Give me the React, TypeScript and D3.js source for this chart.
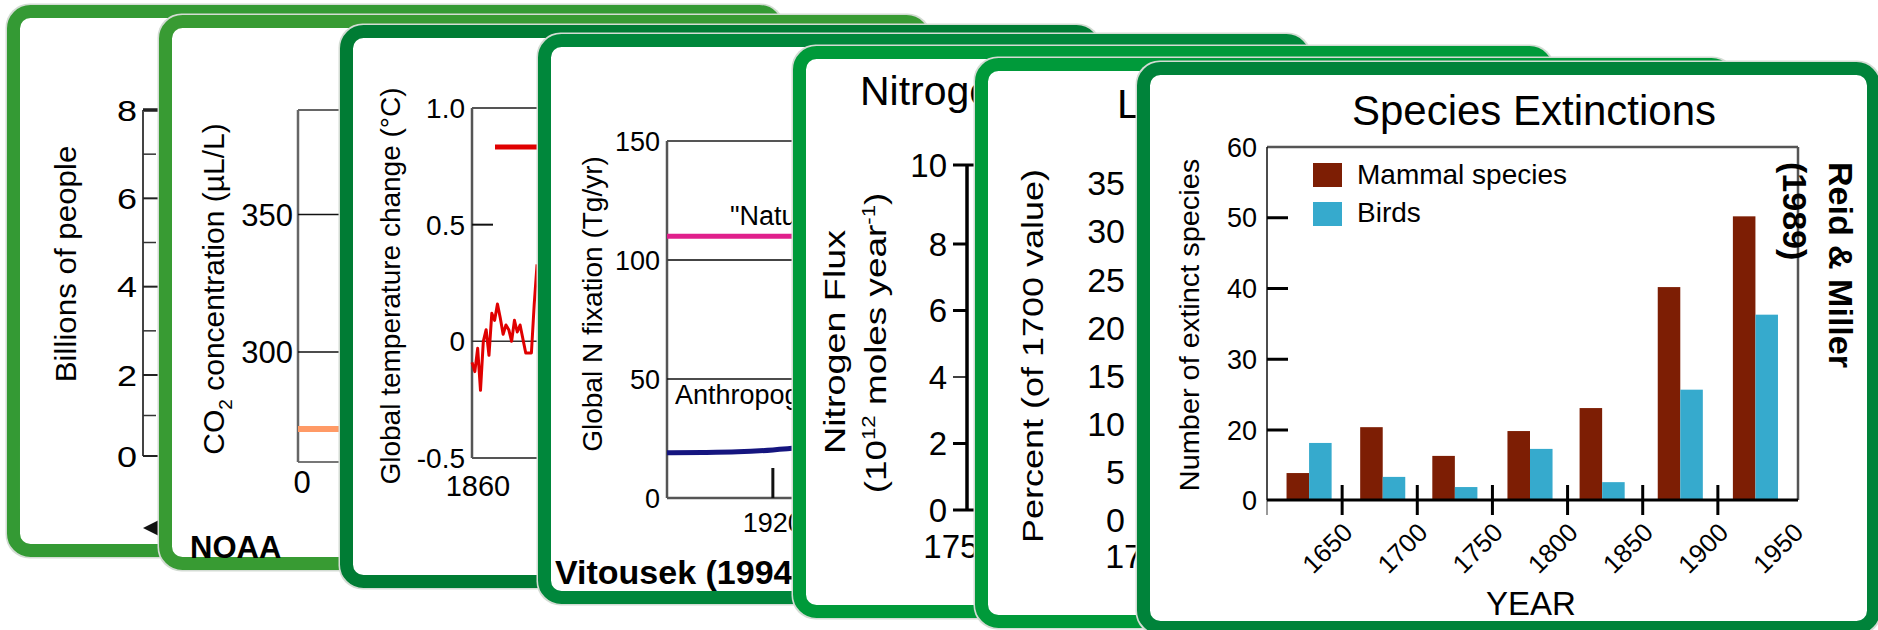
import React from "react";
import * as d3 from "d3";

const FONT = "'Liberation Sans', Arial, Helvetica, sans-serif";

// card 1 - world population
const popTicks = [0, 2, 4, 6, 8];
const popMinorTicks = [1, 3, 5, 7];

// card 2 - CO2 (NOAA)
const co2Ticks = [300, 350];
const co2Years = [0, 500, 1000];
const co2Ppm = [272, 272, 272];

// card 3 - global temperature
const tempTicks = [-0.5, 0, 0.5, 1.0];
const tempYears = [1860, 1861, 1862, 1863, 1864, 1865, 1866, 1867, 1868, 1869, 1870, 1871,
  1872, 1873, 1874, 1875, 1876, 1877, 1878, 1879, 1880, 1881, 1882, 1883];
const tempAnoms = [-0.09, -0.13, -0.03, -0.21, 0.0, 0.05, -0.06, 0.12, 0.09, 0.16, 0.1, 0.03,
  0.07, 0.05, 0.0, 0.09, 0.04, 0.07, 0.01, -0.05, -0.05, -0.05, 0.16, 0.33];

// card 4 - global N fixation (Vitousek 1994)
const nfixTicks = [0, 50, 100, 150];
const naturalYears = [1860, 2000];
const naturalVals = [110, 110];
const anthroYears = [1860, 1880, 1900, 1920, 1940];
const anthroVals = [19.0, 19.1, 19.4, 20.2, 21.5];

// card 5 - nitrogen flux
const fluxTicks = [0, 2, 4, 6, 8, 10];

// card 6 - percent of 1700 value
const pctTicks = [0, 5, 10, 15, 20, 25, 30, 35];

// card 7 - species extinctions (Reid & Miller 1989)
const periodMids = [1628, 1677, 1725, 1775, 1823, 1875, 1925];
const mammals = [7.7, 20.4, 12.6, 19.7, 23.1, 40.2, 50.2];
const birds = [16.3, 6.6, 3.7, 14.6, 5.1, 25.7, 36.3];
const extTickLabels = [0, 20, 30, 40, 50, 60];
const extTickMarks = [20, 30, 40, 50];
const yearTicks = [1650, 1700, 1750, 1800, 1850, 1900];
const yearLabels = [1650, 1700, 1750, 1800, 1850, 1900, 1950];

const MAMMAL = "#7d1e04";
const BIRD = "#36aacd";

function Card({ x, y, w, h, color, children }) {
  const bw = 13;
  return (
    <g>
      <rect x={x - 1.5} y={y - 1.5} width={w + 3} height={h + 3} rx={24} fill="#d4dcd4" />
      <rect
        x={x + bw / 2}
        y={y + bw / 2}
        width={w - bw}
        height={h - bw}
        rx={17}
        fill="#fff"
        stroke={color}
        strokeWidth={bw}
      />
      {children}
    </g>
  );
}

function VLabel({ cx, cy, size, stretch = 1, angle = -90, children, weight = "normal" }) {
  return (
    <text
      transform={`translate(${cx},${cy}) rotate(${angle}) scale(${stretch},1)`}
      textAnchor="middle"
      dy="0.35em"
      fontSize={size}
      fontWeight={weight}
    >
      {children}
    </text>
  );
}

function PopulationPanel() {
  const y = d3.scaleLinear().domain([0, 2, 8]).range([456, 375, 110]);
  const ax = 143;
  return (
    <g>
      <line x1={ax} x2={ax} y1={y(8)} y2={y(0)} stroke="#444" strokeWidth={2} />
      <line x1={ax} x2={ax + 40} y1={y(0)} y2={y(0)} stroke="#555" strokeWidth={2} />
      <line x1={ax} x2={ax + 40} y1={y(8)} y2={y(8)} stroke="#555" strokeWidth={4} />
      {popTicks.map((t) => (
        <g key={t}>
          <line x1={ax} x2={ax + 16} y1={y(t)} y2={y(t)} stroke="#222" strokeWidth={2} />
          <text transform={`translate(137,${y(t)}) scale(1.2,1)`} dy="0.36em" textAnchor="end" fontSize={30}>
            {t}
          </text>
        </g>
      ))}
      {popMinorTicks.map((t) => (
        <line key={t} x1={ax} x2={ax + 13} y1={y(t)} y2={y(t)} stroke="#333" strokeWidth={1.5} />
      ))}
      <VLabel cx={66} cy={264} size={29} stretch={1.08}>Billions of people</VLabel>
      <path d="M143,528 L159,520 L159,536 Z" fill="#111" />
    </g>
  );
}

function Co2Panel() {
  const y = d3.scaleLinear().domain([260, 388]).range([462, 110]);
  const x = d3.scaleLinear().domain([0, 2000]).range([298, 990]);
  const line = d3
    .line<number>()
    .x((_, i) => x(co2Years[i]))
    .y((d) => y(d));
  return (
    <g>
      <line x1={298} x2={700} y1={y(388)} y2={y(388)} stroke="#666" strokeWidth={2} />
      <line x1={298} x2={700} y1={y(260)} y2={y(260)} stroke="#777" strokeWidth={2} />
      <line x1={298} x2={298} y1={y(388)} y2={y(260)} stroke="#666" strokeWidth={2.5} />
      {co2Ticks.map((t) => (
        <g key={t}>
          <line x1={298} x2={700} y1={y(t)} y2={y(t)} stroke="#111" strokeWidth={1.5} />
          <text x={293} y={y(t)} dy="0.36em" textAnchor="end" fontSize={31}>
            {t}
          </text>
        </g>
      ))}
      <path d={line(co2Ppm) || ""} fill="none" stroke="#ff9a66" strokeWidth={6} />
      <text x={x(0) + 4} y={482} dy="0.36em" textAnchor="middle" fontSize={31}>0</text>
      <text transform="translate(213,289) rotate(-90)" textAnchor="middle" dy="0.35em" fontSize={30}>
        CO<tspan dy={8} fontSize={19}>2</tspan>
        <tspan dy={-8}> concentration (µL/L)</tspan>
      </text>
      <text x={190} y={558} fontSize={31} fontWeight="bold">NOAA</text>
    </g>
  );
}

function TempPanel() {
  const x = d3.scaleLinear().domain([1860, 2000]).range([472, 868]);
  const y = d3.scaleLinear().domain([-0.5, 1.0]).range([458, 108]);
  const line = d3
    .line<number>()
    .x((_, i) => x(tempYears[i]))
    .y((d) => y(d));
  const fmt = (d: number) => (d === 0 ? "0" : d.toFixed(1));
  return (
    <g>
      <line x1={472} x2={720} y1={y(1)} y2={y(1)} stroke="#555" strokeWidth={2} />
      <line x1={472} x2={720} y1={y(-0.5)} y2={y(-0.5)} stroke="#555" strokeWidth={2} />
      <line x1={472} x2={472} y1={y(1)} y2={y(-0.5)} stroke="#555" strokeWidth={2.5} />
      <line x1={472} x2={720} y1={y(0)} y2={y(0)} stroke="#333" strokeWidth={1.5} />
      <line x1={472} x2={493} y1={y(0.5)} y2={y(0.5)} stroke="#111" strokeWidth={2} />
      {tempTicks.map((t) => (
        <text key={t} x={465} y={y(t)} dy="0.36em" textAnchor="end" fontSize={28}>
          {fmt(t)}
        </text>
      ))}
      <line x1={495} x2={560} y1={147} y2={147} stroke="#e00000" strokeWidth={5} />
      <path d={line(tempAnoms) || ""} fill="none" stroke="#e00000" strokeWidth={3} strokeLinejoin="round" />
      <text x={x(1860) + 6} y={486} dy="0.36em" textAnchor="middle" fontSize={29}>1860</text>
      <VLabel cx={390} cy={286} size={28}>Global temperature change (°C)</VLabel>
    </g>
  );
}

function NfixPanel() {
  const x = d3.scaleLinear().domain([1860, 2000]).range([667, 914]);
  const y = d3.scaleLinear().domain([0, 150]).range([498, 141]);
  const natural = d3
    .line<number>()
    .x((_, i) => x(naturalYears[i]))
    .y((d) => y(d));
  const anthro = d3
    .line<number>()
    .x((_, i) => x(anthroYears[i]))
    .y((d) => y(d))
    .curve(d3.curveMonotoneX);
  return (
    <g>
      <line x1={667} x2={900} y1={y(150)} y2={y(150)} stroke="#555" strokeWidth={2} />
      <line x1={667} x2={900} y1={y(0)} y2={y(0)} stroke="#555" strokeWidth={2.5} />
      <line x1={667} x2={667} y1={y(150)} y2={y(0)} stroke="#555" strokeWidth={2.5} />
      <line x1={667} x2={900} y1={y(100)} y2={y(100)} stroke="#444" strokeWidth={2} />
      <line x1={667} x2={900} y1={y(50)} y2={y(50)} stroke="#111" strokeWidth={1.5} />
      {nfixTicks.map((t) => (
        <text key={t} x={660} y={y(t)} dy="0.36em" textAnchor="end" fontSize={27}>
          {t}
        </text>
      ))}
      <path d={natural(naturalVals) || ""} fill="none" stroke="#e0208c" strokeWidth={5} />
      <path d={anthro(anthroVals) || ""} fill="none" stroke="#15157f" strokeWidth={5} />
      <line x1={x(1920)} x2={x(1920)} y1={y(0) - 30} y2={y(0)} stroke="#111" strokeWidth={3} />
      <text x={x(1920)} y={522} dy="0.36em" textAnchor="middle" fontSize={27}>1920</text>
      <text x={730} y={225} fontSize={27}>"Natural" range</text>
      <text x={675} y={404} fontSize={27}>Anthropogenic</text>
      <VLabel cx={592} cy={304} size={28}>Global N fixation (Tg/yr)</VLabel>
      <text x={555} y={584} fontSize={34} fontWeight="bold">Vitousek (1994)</text>
    </g>
  );
}

function FluxPanel() {
  const y = d3.scaleLinear().domain([0, 8, 10]).range([510, 244, 165]);
  const ax = 967;
  return (
    <g>
      <text x={860} y={105} fontSize={41}>Nitrogen</text>
      <line x1={ax} x2={ax} y1={y(10)} y2={y(0)} stroke="#000" strokeWidth={3.5} />
      <line x1={ax} x2={ax + 60} y1={y(0)} y2={y(0)} stroke="#000" strokeWidth={3} />
      {fluxTicks.map((t) => (
        <g key={t}>
          <line x1={ax - 14} x2={t === 10 ? ax + 20 : ax} y1={y(t)} y2={y(t)} stroke="#000"
            strokeWidth={t === 4 ? 1.5 : 3} />
          <text x={947} y={y(t)} dy="0.36em" textAnchor="end" fontSize={33}>
            {t}
          </text>
        </g>
      ))}
      <text x={960} y={546} dy="0.36em" textAnchor="middle" fontSize={33}>1750</text>
      <VLabel cx={835} cy={342} size={29} stretch={1.3}>Nitrogen Flux</VLabel>
      <text transform="translate(875,343) rotate(-90) scale(1.23,1)" textAnchor="middle" dy="0.35em" fontSize={30}>
        (10<tspan dy={-11} fontSize={18}>12</tspan>
        <tspan dy={11}> moles year</tspan>
        <tspan dy={-11} fontSize={18}>-1</tspan>
        <tspan dy={11}>)</tspan>
      </text>
    </g>
  );
}

function PercentPanel() {
  const y = d3.scaleLinear().domain([0, 35]).range([520, 183]);
  return (
    <g>
      <text x={1117} y={118} fontSize={41}>Land</text>
      {pctTicks.map((t) => (
        <text key={t} x={1125} y={y(t)} dy="0.36em" textAnchor="end" fontSize={34}>
          {t}
        </text>
      ))}
      <text x={1143} y={556} dy="0.36em" textAnchor="middle" fontSize={34}>1700</text>
      <VLabel cx={1032} cy={356} size={30} stretch={1.2}>Percent (of 1700 value)</VLabel>
    </g>
  );
}

function ExtinctionPanel() {
  const x = d3.scaleLinear().domain([1600, 1950]).range([1267, 1793]);
  const y = d3.scaleLinear().domain([0, 20, 60]).range([500, 430, 147]);
  const left = x(1600);
  const right = 1798;
  return (
    <g>
      <text x={1534} y={125} textAnchor="middle" fontSize={42}>Species Extinctions</text>
      {/* frame */}
      <line x1={left} x2={right} y1={y(60)} y2={y(60)} stroke="#555" strokeWidth={2.5} />
      <line x1={right} x2={right} y1={y(60)} y2={y(0)} stroke="#555" strokeWidth={2.5} />
      <line x1={left} x2={left} y1={y(60)} y2={y(0)} stroke="#111" strokeWidth={1.5} />
      <line x1={left} x2={left} y1={y(0)} y2={y(0) + 15} stroke="#999" strokeWidth={2} />
      {/* bars */}
      {periodMids.map((m, i) => (
        <g key={m}>
          <rect x={x(m - 15)} y={y(mammals[i])} width={x(m) - x(m - 15)} height={y(0) - y(mammals[i])} fill={MAMMAL} />
          <rect x={x(m)} y={y(birds[i])} width={x(m + 15) - x(m)} height={y(0) - y(birds[i])} fill={BIRD} />
        </g>
      ))}
      <line x1={left} x2={right} y1={y(0)} y2={y(0)} stroke="#000" strokeWidth={3} />
      {extTickMarks.map((t) => (
        <line key={t} x1={left} x2={left + 21} y1={y(t)} y2={y(t)} stroke="#000" strokeWidth={3} />
      ))}
      {extTickLabels.map((t) => (
        <text key={t} x={1257} y={y(t)} dy="0.36em" textAnchor="end" fontSize={27}>
          {t}
        </text>
      ))}
      {yearTicks.map((t) => (
        <line key={t} x1={x(t)} x2={x(t)} y1={y(0) - 15} y2={y(0) + 15} stroke="#000" strokeWidth={3} />
      ))}
      {yearLabels.map((t) => (
        <text key={t} transform={`translate(${x(t) + 12},${534}) rotate(-45)`} textAnchor="end" fontSize={26}>
          {t}
        </text>
      ))}
      <text x={1531} y={615} textAnchor="middle" fontSize={33}>YEAR</text>
      <VLabel cx={1190} cy={325} size={27} stretch={1.07}>Number of extinct species</VLabel>
      {/* legend */}
      <rect x={1313} y={163} width={29} height={24} fill={MAMMAL} />
      <rect x={1313} y={202} width={29} height={24} fill={BIRD} />
      <text x={1357} y={184} fontSize={28}>Mammal species</text>
      <text x={1357} y={222} fontSize={28}>Birds</text>
      {/* source */}
      <text transform="translate(1829,162) rotate(90)" fontSize={34} fontWeight="bold">Reid &amp; Miller</text>
      <text transform="translate(1783,162) rotate(90)" fontSize={34} fontWeight="bold">(1989)</text>
    </g>
  );
}

export default function App() {
  return (
    <div style={{ position: "absolute", left: 0, top: 0 }}>
      <svg width={1878} height={630} style={{ display: "block", background: "#fff" }}
        fontFamily={FONT} fill="#000">
        <Card x={7} y={5} w={776} h={552} color="#349a34">
          <PopulationPanel />
        </Card>
        <Card x={159} y={15} w={771} h={555} color="#389b33">
          <Co2Panel />
        </Card>
        <Card x={340} y={25} w={760} h={563} color="#007c34">
          <TempPanel />
        </Card>
        <Card x={538} y={34} w={772} h={570} color="#00873b">
          <NfixPanel />
        </Card>
        <Card x={793} y={46} w={760} h={572} color="#009a3a">
          <FluxPanel />
        </Card>
        <Card x={975} y={58} w={760} h={570} color="#009a3a">
          <PercentPanel />
        </Card>
        <Card x={1137} y={62} w={743} h={572} color="#00833a">
          <ExtinctionPanel />
        </Card>
      </svg>
    </div>
  );
}
